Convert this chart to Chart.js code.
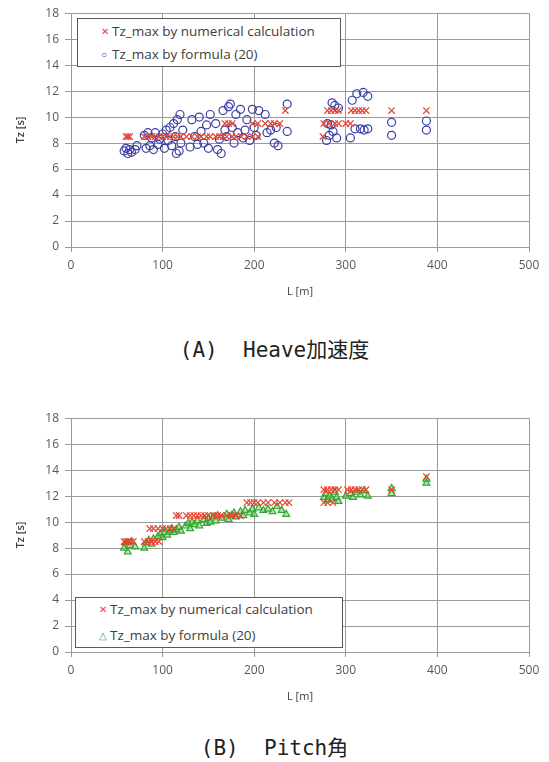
<!DOCTYPE html>
<html>
<head>
<meta charset="utf-8">
<script src="https://cdn.jsdelivr.net/npm/chart.js@4.4.1/dist/chart.umd.min.js"></script>
<style>
  body { margin: 0; background: #fff; width: 549px; height: 762px; position: relative; overflow: hidden; font-family: "Open Sans", sans-serif; }
  .box { position: absolute; left: 0; width: 549px; height: 300px; }
  .legend { position: absolute; background: #fff; border: 1px solid #595959; font-size: 13.5px; color: #404040; font-family: "Open Sans", sans-serif; }
  .legend div { position: absolute; left: 34px; white-space: nowrap; line-height: 18px; }
  .legend span { position: absolute; left: -11px; font-size: 10px; }
  .cap { position: absolute; left: 0; width: 549px; text-align: center; font-family: "DejaVu Sans Mono", "Noto Sans CJK JP", monospace; font-size: 21px; color: #222; white-space: pre; }
</style>
</head>
<body>
<div class="box" style="top:0"><canvas id="chartA"></canvas></div>
<div class="box" style="top:405px"><canvas id="chartB"></canvas></div>

<div class="legend" style="left:77px; top:18px; width:262px; height:47px;">
  <div style="top:3px"><span style="color:#e8412f">✕</span>Tz_max by numerical calculation</div>
  <div style="top:26px"><span style="color:#3b3fa0">○</span>Tz_max by formula (20)</div>
</div>
<div class="legend" style="left:75px; top:597px; width:266px; height:49px;">
  <div style="top:2px"><span style="color:#e8412f">✕</span>Tz_max by numerical calculation</div>
  <div style="top:28px"><span style="color:#3aa83a">△</span>Tz_max by formula (20)</div>
</div>

<div class="cap" style="top:333px">(A)  Heave加速度</div>
<div class="cap" style="top:731px">(B)  Pitch角</div>

<script>
const xTicks = [0, 100, 200, 300, 400, 500];
const yTicks = [0, 2, 4, 6, 8, 10, 12, 14, 16, 18];

// (A) Heave - numerical calculation
const heaveNumL = [60, 62, 64, 80, 84, 88, 92, 96, 100, 104, 108, 112, 116, 120, 126, 132, 138, 142, 148, 152, 158, 162, 166, 170, 176, 180, 186, 192, 198, 204,
  168, 172, 176, 198, 204, 212, 218, 222, 228, 276, 282, 288, 292, 300, 305, 275,
  234, 280, 284, 288, 292, 306, 310, 314, 318, 322, 350, 388];
const heaveNumT = [8.5, 8.5, 8.5, 8.5, 8.5, 8.5, 8.5, 8.5, 8.5, 8.5, 8.5, 8.5, 8.5, 8.5, 8.5, 8.5, 8.5, 8.5, 8.5, 8.5, 8.5, 8.5, 8.5, 8.5, 8.5, 8.5, 8.5, 8.5, 8.5, 8.5,
  9.5, 9.5, 9.5, 9.5, 9.5, 9.5, 9.5, 9.5, 9.5, 9.5, 9.5, 9.5, 9.5, 9.5, 9.5, 8.5,
  10.5, 10.5, 10.5, 10.5, 10.5, 10.5, 10.5, 10.5, 10.5, 10.5, 10.5, 10.5];

// (A) Heave - formula (20)
const heaveFmlL = [58, 60, 62, 64, 66, 70, 72,
  80, 82, 84, 86, 88, 90, 92,
  95, 97, 100, 102, 104, 106, 108, 110, 112, 114, 115, 116, 118, 119, 120, 122,
  130, 132, 135, 138, 140, 142, 145, 148, 150, 152,
  158, 160, 162, 164, 166, 168, 170, 172, 174, 176, 178, 180, 182, 185, 188, 190,
  192, 195, 198, 200, 202, 205,
  212, 214, 218, 222, 224, 226, 236, 236,
  279, 280, 282, 284, 285, 286, 288, 290, 292,
  305, 307, 312, 319, 324, 310, 316, 320, 324,
  350, 350, 388, 388];
const heaveFmlT = [7.4, 7.6, 7.2, 7.5, 7.3, 7.5, 7.8,
  8.6, 7.6, 8.8, 7.8, 8.4, 7.5, 8.8,
  7.9, 8.3, 8.7, 7.6, 9.0, 8.2, 9.2, 7.8, 9.5, 8.5, 7.2, 9.8, 7.4, 10.2, 8.0, 9.0,
  7.7, 9.8, 8.5, 7.9, 10.0, 8.9, 8.0, 9.4, 7.6, 10.2,
  9.5, 7.5, 8.3, 7.2, 10.5, 9.0, 8.5, 10.8, 11.0, 9.2, 8.0, 10.2, 8.8, 10.6, 8.4, 9.0,
  9.8, 8.2, 10.6, 9.2, 8.6, 10.5,
  10.2, 8.8, 9.0, 8.0, 9.2, 7.8, 11.0, 8.9,
  8.2, 9.5, 8.6, 9.4, 11.1, 8.9, 10.9, 8.4, 10.7,
  8.4, 11.3, 11.8, 11.9, 11.6, 9.1, 9.1, 9.0, 9.1,
  9.6, 8.6, 9.7, 9.0];

// (B) Pitch - numerical calculation
const pitchNumL = [58, 60, 62, 65, 68, 80, 84, 88, 92, 96,
  86, 90, 95, 100, 104, 108, 112,
  115, 118, 126, 130, 134, 138, 142, 146, 150, 155, 160, 164, 170, 175, 180, 185,
  192, 196, 200, 204, 210, 215, 222, 228, 234, 238, 276, 280, 286,
  276, 280, 284, 288, 292, 302, 306, 310, 314, 318, 322, 350,
  388];
const pitchNumT = [8.5, 8.5, 8.5, 8.5, 8.5, 8.5, 8.5, 8.5, 8.5, 8.5,
  9.5, 9.5, 9.5, 9.5, 9.5, 9.5, 9.5,
  10.5, 10.5, 10.5, 10.5, 10.5, 10.5, 10.5, 10.5, 10.5, 10.5, 10.5, 10.5, 10.5, 10.5, 10.5, 10.5,
  11.5, 11.5, 11.5, 11.5, 11.5, 11.5, 11.5, 11.5, 11.5, 11.5, 11.5, 11.5, 11.5,
  12.5, 12.5, 12.5, 12.5, 12.5, 12.5, 12.5, 12.5, 12.5, 12.5, 12.5, 12.5,
  13.5];

// (B) Pitch - formula (20)
const pitchFmlL = [58, 60, 62, 64, 66, 70, 80, 82, 85, 88, 90, 95, 98, 100, 102, 105, 108, 110, 112, 115, 118, 120,
  125, 128, 130, 132, 135, 138, 140, 145, 148, 150, 152, 155, 158, 160, 165, 170, 172, 175, 178, 180,
  185, 188, 190, 195, 198, 200, 205, 210, 215, 220, 225, 230, 235,
  276, 278, 280, 282, 285, 288, 290, 292, 300, 305, 308, 312, 316, 320, 324, 350, 350, 388, 388];
const pitchFmlT = [8.0, 8.4, 7.7, 8.2, 8.5, 8.1, 8.0, 8.4, 8.6, 8.3, 8.7, 8.9, 9.1, 8.8, 9.2, 9.0, 9.3, 9.5, 9.2, 9.4, 9.6, 9.3,
  9.7, 9.9, 9.5, 10.0, 9.8, 10.1, 9.7, 10.2, 9.9, 10.3, 10.0, 10.4, 10.1, 10.5, 10.3, 10.6, 10.2, 10.5, 10.7, 10.4,
  10.8, 10.5, 10.9, 10.7, 11.0, 10.6, 11.1, 10.9, 11.0, 10.8, 11.2, 10.9, 10.6,
  11.9, 12.2, 11.7, 12.0, 11.8, 12.3, 11.9, 11.6, 12.0, 12.2, 11.9, 12.3, 12.1, 12.4, 12.0, 12.6, 12.2, 13.3, 13.0];

function pts(xs, ys) {
  return xs.map((x, i) => ({ x: x, y: ys[i] }));
}

const tickFont = { family: 'Open Sans', size: 12 };

function makeChart(id, fmlData, fmlStyle) {
  const ctx = document.getElementById(id).getContext('2d');
  return new Chart(ctx, {
    type: 'scatter',
    data: {
      datasets: [
        {
          label: 'Tz_max by numerical calculation',
          data: fmlData.num,
          pointStyle: 'crossRot',
          pointRadius: 4.5,
          borderColor: '#e8412f',
          borderWidth: 1.2
        },
        Object.assign({
          label: 'Tz_max by formula (20)',
          data: fmlData.fml,
          pointRadius: 4,
          borderWidth: 1.2
        }, fmlStyle)
      ]
    },
    options: {
      responsive: true,
      maintainAspectRatio: false,
      animation: false,
      layout: { padding: { top: 12, right: 20, left: 0, bottom: 0 } },
      plugins: { legend: { display: false }, tooltip: { enabled: false } },
      scales: {
        x: {
          type: 'linear', min: 0, max: 500,
          afterBuildTicks: s => { s.ticks = xTicks.map(v => ({ value: v })); },
          afterFit: s => { s.height = 53; },
          grid: { color: '#9a9a9a', tickLength: 5 },
          border: { color: '#9a9a9a' },
          ticks: { color: '#595959', font: tickFont, padding: 6 },
          title: { display: true, text: 'L [m]', color: '#404040', font: { family: 'Open Sans', size: 11 }, padding: { top: 0, bottom: 2 } }
        },
        y: {
          type: 'linear', min: 0, max: 18,
          afterBuildTicks: s => { s.ticks = yTicks.map(v => ({ value: v })); },
          afterFit: s => { s.width = 71; },
          grid: { color: '#9a9a9a', tickLength: 6 },
          border: { color: '#9a9a9a' },
          ticks: { color: '#595959', font: tickFont, padding: 6 },
          title: { display: true, text: 'Tz [s]', color: '#404040', font: { family: 'Open Sans', size: 11, weight: '600' }, padding: { top: 14, bottom: 0 } }
        }
      }
    }
  });
}

makeChart('chartA', { num: pts(heaveNumL, heaveNumT), fml: pts(heaveFmlL, heaveFmlT) },
  { pointStyle: 'circle', borderColor: '#3b3fa0', backgroundColor: 'rgba(0,0,0,0)' });
makeChart('chartB', { num: pts(pitchNumL, pitchNumT), fml: pts(pitchFmlL, pitchFmlT) },
  { pointStyle: 'triangle', borderColor: '#33a833', backgroundColor: 'rgba(120,205,100,0.55)' });
</script>
</body>
</html>
